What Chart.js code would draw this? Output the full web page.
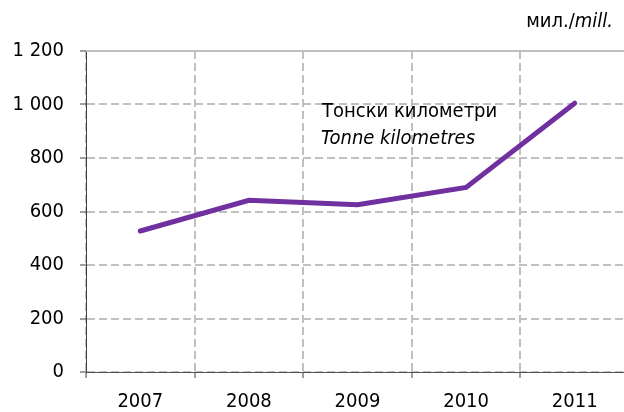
<!DOCTYPE html>
<html>
<head>
<meta charset="utf-8">
<script src="https://cdn.jsdelivr.net/npm/chart.js@4"></script>
<style>
html,body{margin:0;padding:0;background:#fff;overflow:hidden;width:624px;height:412px;}
#c{display:block;}
</style>
</head>
<body>
<canvas id="c" width="640" height="412" style="width:640px;height:412px"></canvas>
<script>
const categories = ['2007', '2008', '2009', '2010', '2011'];
const tonneKm = [527, 642, 625, 690, 1005];
const yTicks = [0, 200, 400, 600, 800, 1000, 1200];
const seriesLabelBg = 'Тонски километри';
const seriesLabelEn = 'Tonne kilometres';
const unitBg = 'мил./';
const unitEn = 'mill.';

const FONT = "'DejaVu Sans Condensed', 'DejaVu Sans', sans-serif";

function fmt(v){ return String(v).replace(/\B(?=(\d{3})+(?!\d))/g, ' '); }

const textPlugin = {
  id: 'texts',
  beforeDatasetsDraw(chart){
    const ctx = chart.ctx, y = chart.scales.y, a = chart.chartArea;
    const py = Math.round(y.getPixelForValue(yTicks[yTicks.length-1]));
    ctx.save();
    ctx.strokeStyle = '#c0c0c0';
    ctx.lineWidth = 2;
    ctx.beginPath();
    ctx.moveTo(a.left, py);
    ctx.lineTo(a.right, py);
    ctx.stroke();
    ctx.restore();
  },
  afterDraw(chart){
    const ctx = chart.ctx;
    ctx.save();
    ctx.fillStyle = '#000';
    ctx.textBaseline = 'middle';
    ctx.textAlign = 'left';
    // unit label
    ctx.font = "20px " + FONT;
    const w1 = ctx.measureText(unitBg).width;
    ctx.font = "italic 20px " + FONT;
    const w2 = ctx.measureText(unitEn).width;
    const right = 613;
    ctx.font = "20px " + FONT;
    ctx.fillText(unitBg, right - w1 - w2, 22);
    ctx.font = "italic 20px " + FONT;
    ctx.fillText(unitEn, right - w2, 22);
    // series label
    ctx.font = "20px " + FONT;
    ctx.fillText(seriesLabelBg, 322, 112);
    ctx.font = "italic 20px " + FONT;
    ctx.fillText(seriesLabelEn, 321, 139);
    ctx.restore();
  }
};

new Chart(document.getElementById('c'), {
  type: 'line',
  data: {
    labels: categories,
    datasets: [{
      data: tonneKm,
      borderColor: '#7030a0',
      borderWidth: 5,
      borderCapStyle: 'round',
      borderJoinStyle: 'miter',
      pointRadius: 0,
      pointHoverRadius: 0,
      tension: 0,
      fill: false
    }]
  },
  options: {
    responsive: false,
    animation: false,
    devicePixelRatio: 1,
    layout: { padding: { top: 51, right: 11, left: 0, bottom: 0 } },
    plugins: { legend: { display: false }, tooltip: { enabled: false }, title: { display: false } },
    scales: {
      x: {
        type: 'category',
        offset: true,
        grid: {
          offset: true,
          color: '#c0c0c0',
          lineWidth: 2,
          tickColor: '#404040',
          tickLength: 6,
          tickWidth: 1,
          drawTicks: true
        },
        border: { display: true, color: '#505050', width: 1, dash: [8, 4] },
        ticks: {
          color: '#000',
          font: { family: FONT, size: 20 },
          padding: 12,
          maxRotation: 0
        },
        afterFit(s){ s.height = 40; }
      },
      y: {
        min: 0,
        max: 1200,
        afterBuildTicks(s){ s.ticks = yTicks.map(v => ({ value: v })); },
        grid: {
          color: '#c0c0c0',
          lineWidth: 2,
          tickColor: '#404040',
          tickLength: 6,
          tickWidth: 1
        },
        border: { display: true, color: '#404040', width: 1, dash: [8, 4] },
        ticks: {
          color: '#000',
          font: { family: FONT, size: 20 },
          padding: 16,
          callback: v => fmt(v)
        },
        afterFit(s){ s.width = 86; }
      }
    }
  },
  plugins: [textPlugin]
});
</script>
</body>
</html>
